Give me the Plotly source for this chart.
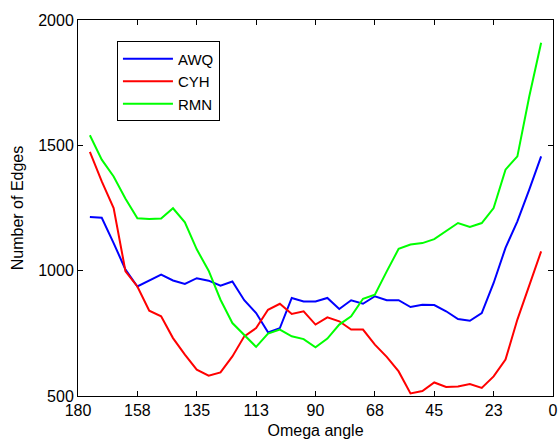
import plotly.graph_objects as go

# Omega angle samples (degrees)
omega = [175.5, 171.0, 166.5, 162.0, 157.5, 153.0, 148.5, 144.0, 139.5, 135.0,
         130.5, 126.0, 121.5, 117.0, 112.5, 108.0, 103.5, 99.0, 94.5, 90.0,
         85.5, 81.0, 76.5, 72.0, 67.5, 63.0, 58.5, 54.0, 49.5, 45.0,
         40.5, 36.0, 31.5, 27.0, 22.5, 18.0, 13.5, 9.0, 4.5]

awq = [1214, 1211, 1110, 1004, 937, 961, 984, 961, 947, 970,
       960, 940, 957, 882, 831, 754, 771, 891, 877, 877,
       891, 847, 882, 868, 898, 882, 882, 855, 864, 863,
       838, 807, 800, 831, 951, 1091, 1197, 1323, 1456]

cyh = [1474, 1356, 1250, 997, 937, 840, 818, 731, 665, 605,
       581, 594, 658, 738, 771, 844, 868, 827, 838, 785,
       814, 798, 765, 765, 705, 656, 598, 510, 520, 554,
       536, 538, 548, 532, 578, 645, 805, 944, 1077]

rmn = [1540, 1443, 1376, 1287, 1209, 1206, 1208, 1249, 1193, 1085,
       1000, 884, 791, 745, 696, 749, 765, 738, 727, 694,
       729, 785, 818, 888, 904, 997, 1087, 1104, 1110, 1126,
       1157, 1190, 1174, 1190, 1250, 1403, 1456, 1695, 1909]

tick_vals = [180, 157.5, 135, 112.5, 90, 67.5, 45, 22.5, 0]
tick_text = ["180", "158", "135", "113", "90", "68", "45", "23", "0"]
y_ticks = [500, 1000, 1500, 2000]

series = [("AWQ", awq, "#0000FF"), ("CYH", cyh, "#FF0000"), ("RMN", rmn, "#00FF00")]

fig = go.Figure()
for name, vals, col in series:
    fig.add_trace(go.Scatter(x=omega, y=vals, mode="lines", name=name,
                             line=dict(color=col, width=2)))

font = dict(family="Liberation Sans, Arial, sans-serif", size=16, color="black")
fig.update_layout(
    width=559, height=439,
    margin=dict(l=78, r=6, t=20, b=43, autoexpand=False),
    paper_bgcolor="white", plot_bgcolor="white",
    font=font,
    showlegend=True,
    legend=dict(x=0.082, y=0.943, xanchor="left", yanchor="top",
                bgcolor="white", bordercolor="black", borderwidth=1,
                font=dict(family="Liberation Sans, Arial, sans-serif", size=15, color="black"),
                itemwidth=50, tracegroupgap=0),
    xaxis=dict(range=[180, 0], tickvals=tick_vals, ticktext=tick_text,
               showgrid=False, zeroline=False, showline=True, linecolor="black",
               linewidth=1, mirror="ticks", ticks="inside", ticklen=5,
               tickcolor="black", automargin=False,
               title=dict(text="Omega angle", standoff=10, font=font)),
    yaxis=dict(range=[500, 2000], tickvals=y_ticks,
               showgrid=False, zeroline=False, showline=True, linecolor="black",
               linewidth=1, mirror="ticks", ticks="inside", ticklen=5,
               tickcolor="black", automargin=False,
               title=dict(text="Number of Edges", standoff=10, font=font)),
)

fig.write_html("out.html", config={"displayModeBar": False},
               post_script="document.body.style.margin='0px';")
